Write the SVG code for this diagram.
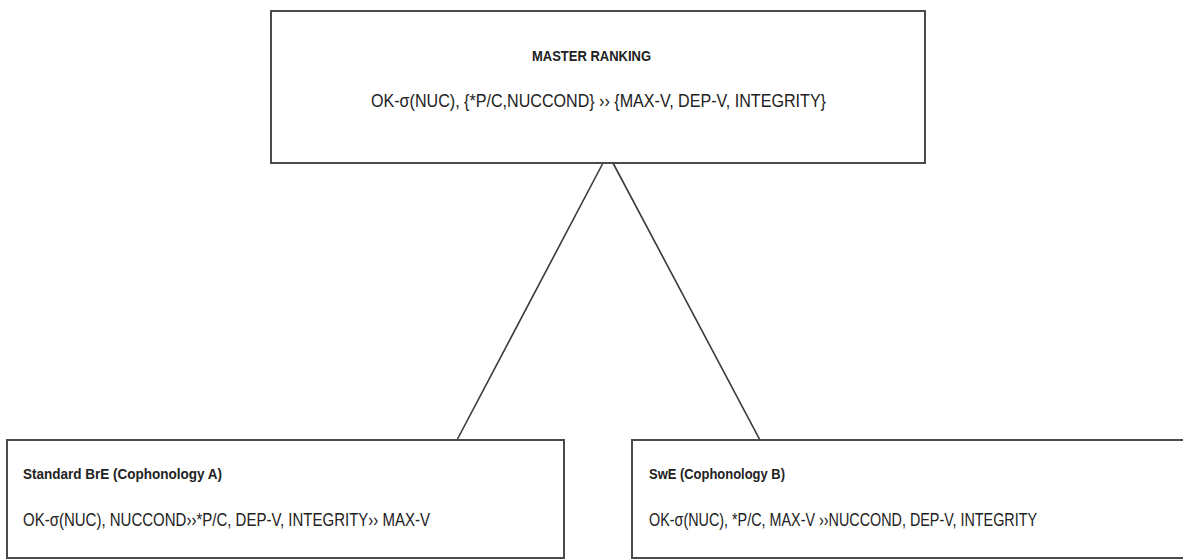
<svg xmlns="http://www.w3.org/2000/svg" width="1183" height="559" viewBox="0 0 1183 559">
  <style>
    .box { fill: #ffffff; stroke: #4a4a4a; stroke-width: 2; }
    .link { stroke: #3a3a3a; stroke-width: 1.6; fill: none; }
    .title { font-family: "Liberation Sans", Arial, sans-serif; font-weight: bold; font-size: 15px; fill: #222; }
    .body { font-family: "Liberation Sans", Arial, sans-serif; font-size: 17.5px; fill: #222; }
  </style>
  <rect width="1183" height="559" fill="#ffffff"/>

  <!-- connectors from the master ranking to each cophonology -->
  <g id="connectors">
    <line class="link" x1="603" y1="163" x2="457" y2="440"/>
    <line class="link" x1="613" y1="163" x2="760" y2="440"/>
  </g>

  <g id="master-ranking">
    <rect class="box" x="271" y="11" width="654" height="152"/>
    <text class="title" x="532" y="61" textLength="119" lengthAdjust="spacingAndGlyphs">MASTER RANKING</text>
    <text class="body" x="371" y="107" textLength="455" lengthAdjust="spacingAndGlyphs">OK-σ(NUC), {*P/C,NUCCOND} ›› {MAX-V, DEP-V, INTEGRITY}</text>
  </g>

  <g id="cophonology-a">
    <rect class="box" x="7" y="440" width="557" height="118"/>
    <text class="title" x="23" y="479" textLength="199" lengthAdjust="spacingAndGlyphs">Standard BrE (Cophonology A)</text>
    <text class="body" x="23" y="526" textLength="407" lengthAdjust="spacingAndGlyphs">OK-σ(NUC), NUCCOND››*P/C, DEP-V, INTEGRITY›› MAX-V</text>
  </g>

  <g id="cophonology-b">
    <rect class="box" x="632" y="440" width="556" height="118"/>
    <text class="title" x="649" y="479" textLength="136" lengthAdjust="spacingAndGlyphs">SwE (Cophonology B)</text>
    <text class="body" x="649" y="526" textLength="388" lengthAdjust="spacingAndGlyphs">OK-σ(NUC), *P/C, MAX-V ››NUCCOND, DEP-V, INTEGRITY</text>
  </g>
</svg>
